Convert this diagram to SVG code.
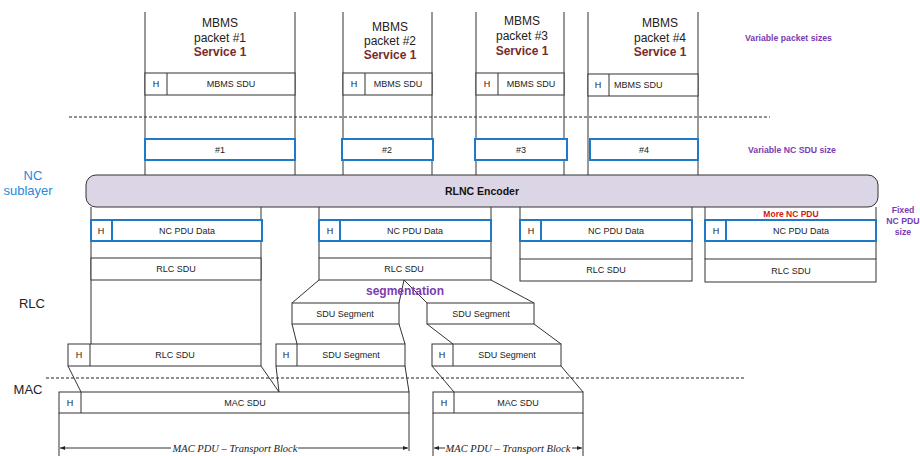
<svg xmlns="http://www.w3.org/2000/svg" width="920" height="456" viewBox="0 0 920 456">
<defs>
<style>
.ln{stroke:#333;stroke-width:1;fill:none}
.bx{stroke:#333;stroke-width:1;fill:#fff}
.nb{stroke:#1f78c8;stroke-width:2;fill:#fff}
.dash{stroke:#222;stroke-width:1;stroke-dasharray:3,2;fill:none}
.t{font-family:"Liberation Sans",Arial,sans-serif;font-size:9px;fill:#222;text-anchor:middle}
.ts{font-family:"Liberation Sans",Arial,sans-serif;font-size:9px;fill:#222;text-anchor:start}
.big{font-family:"Liberation Sans",Arial,sans-serif;font-size:12px;fill:#222;text-anchor:middle}
.svc{font-family:"Liberation Sans",Arial,sans-serif;font-size:12px;font-weight:bold;fill:#7a2b2b;text-anchor:middle}
.pur{font-family:"Liberation Sans",Arial,sans-serif;font-size:8.7px;font-weight:bold;fill:#7a3cb0}
.lay{font-family:"Liberation Sans",Arial,sans-serif;font-size:13px;fill:#222;text-anchor:middle}
.it{font-family:"Liberation Serif","Times New Roman",serif;font-size:10.5px;font-style:italic;fill:#222;text-anchor:middle}
</style>
<marker id="ar" viewBox="0 0 10 10" refX="10" refY="5" markerWidth="7" markerHeight="5" orient="auto-start-reverse" markerUnits="userSpaceOnUse"><path d="M0,1 L10,5 L0,9 Z" fill="#222"/></marker>
</defs>
<rect width="920" height="456" fill="#fff"/>

<g id="layer-labels">
<text x="33" y="180" class="lay" style="fill:#2a88d8">NC</text>
<text x="28" y="195" class="lay" style="fill:#2a88d8">sublayer</text>
<text x="32" y="308" class="lay">RLC</text>
<text x="28" y="394" class="lay">MAC</text>
<text x="745" y="41" class="pur">Variable packet sizes</text>
<text x="748" y="153" class="pur">Variable  NC SDU size</text>
<text x="903" y="213" class="pur" text-anchor="middle">Fixed</text>
<text x="903" y="224" class="pur" text-anchor="middle">NC PDU</text>
<text x="903" y="235" class="pur" text-anchor="middle">size</text>
</g>

<g id="connectors">
<line class="dash" x1="69" y1="117" x2="770" y2="117"/>
<line class="dash" x1="46" y1="378" x2="746" y2="378"/>
<line class="ln" x1="145" y1="12" x2="145" y2="175"/>
<line class="ln" x1="295" y1="12" x2="295" y2="175"/>
<line class="ln" x1="343" y1="12" x2="343" y2="175"/>
<line class="ln" x1="432" y1="12" x2="432" y2="175"/>
<line class="ln" x1="476" y1="12" x2="476" y2="175"/>
<line class="ln" x1="564" y1="12" x2="564" y2="175"/>
<line class="ln" x1="588" y1="12" x2="588" y2="175"/>
<line class="ln" x1="698" y1="12" x2="698" y2="175"/>
<line class="ln" x1="91" y1="207" x2="91" y2="344"/>
<line class="ln" x1="261" y1="207" x2="261" y2="344"/>
<line class="ln" x1="319" y1="207" x2="319" y2="258"/>
<line class="ln" x1="491" y1="207" x2="491" y2="258"/>
<line class="ln" x1="520" y1="207" x2="520" y2="259"/>
<line class="ln" x1="692" y1="207" x2="692" y2="259"/>
<line class="ln" x1="705" y1="207" x2="705" y2="259"/>
<line class="ln" x1="876" y1="207" x2="876" y2="259"/>
<line class="ln" x1="319" y1="280" x2="292" y2="303"/>
<line class="ln" x1="491" y1="280" x2="534" y2="303"/>
<line class="ln" x1="404" y1="280" x2="399" y2="303"/>
<line class="ln" x1="404" y1="280" x2="427" y2="303"/>
<line class="ln" x1="292" y1="324" x2="297" y2="344"/>
<line class="ln" x1="399" y1="324" x2="405" y2="344"/>
<line class="ln" x1="427" y1="324" x2="453" y2="344"/>
<line class="ln" x1="534" y1="324" x2="561" y2="344"/>
<line class="ln" x1="68" y1="366" x2="81" y2="392"/>
<line class="ln" x1="261" y1="366" x2="279" y2="392"/>
<line class="ln" x1="276" y1="366" x2="279" y2="392"/>
<line class="ln" x1="405" y1="366" x2="409" y2="392"/>
<line class="ln" x1="432" y1="366" x2="454" y2="392"/>
<line class="ln" x1="561" y1="366" x2="583" y2="392"/>
<line class="ln" x1="59" y1="413" x2="59" y2="456"/>
<line class="ln" x1="409" y1="413" x2="409" y2="451"/>
<line class="ln" x1="433" y1="413" x2="433" y2="456"/>
<line class="ln" x1="583" y1="413" x2="583" y2="456"/>
<line class="ln" x1="60" y1="448" x2="171" y2="448" marker-start="url(#ar)"/>
<line class="ln" x1="298" y1="448" x2="408" y2="448" marker-end="url(#ar)"/>
<line class="ln" x1="434" y1="448" x2="445" y2="448" marker-start="url(#ar)"/>
<line class="ln" x1="572" y1="448" x2="582" y2="448" marker-end="url(#ar)"/>
</g>

<g id="packet1">
<text x="220" y="27" class="big">MBMS</text>
<text x="220" y="42" class="big">packet #1</text>
<text x="220" y="56" class="svc">Service 1</text>
<rect class="bx" x="145" y="73" width="150" height="22"/>
<line class="ln" x1="167" y1="73" x2="167" y2="95"/>
<text x="156" y="87" class="t">H</text>
<text x="231" y="87" class="t">MBMS SDU</text>
</g>
<g id="packet2">
<text x="390" y="31" class="big">MBMS</text>
<text x="390" y="45" class="big">packet #2</text>
<text x="390" y="59" class="svc">Service 1</text>
<rect class="bx" x="343" y="73" width="89" height="22"/>
<line class="ln" x1="365" y1="73" x2="365" y2="95"/>
<text x="354" y="87" class="t">H</text>
<text x="398" y="87" class="t">MBMS SDU</text>
</g>
<g id="packet3">
<text x="522" y="25" class="big">MBMS</text>
<text x="522" y="40" class="big">packet #3</text>
<text x="522" y="55" class="svc">Service 1</text>
<rect class="bx" x="476" y="73" width="88" height="22"/>
<line class="ln" x1="498" y1="73" x2="498" y2="95"/>
<text x="487" y="87" class="t">H</text>
<text x="531" y="87" class="t">MBMS SDU</text>
</g>
<g id="packet4">
<text x="660" y="27" class="big">MBMS</text>
<text x="660" y="42" class="big">packet #4</text>
<text x="660" y="56" class="svc">Service 1</text>
<rect class="bx" x="588" y="74" width="110" height="22"/>
<line class="ln" x1="609" y1="74" x2="609" y2="96"/>
<text x="598" y="88" class="t">H</text>
<text x="614" y="88" class="ts">MBMS SDU</text>
</g>

<g id="ncsdu">
<rect class="nb" x="145" y="139" width="150" height="21"/>
<text x="220" y="153" class="t">#1</text>
<rect class="nb" x="342" y="139" width="91" height="21"/>
<text x="387" y="153" class="t">#2</text>
<rect class="nb" x="475" y="139" width="92" height="21"/>
<text x="521" y="153" class="t">#3</text>
<rect class="nb" x="590" y="139" width="108" height="21"/>
<text x="644" y="153" class="t">#4</text>
</g>

<g id="encoder">
<rect x="86" y="175" width="792" height="32" rx="10" fill="#dcd5e5" stroke="#333" stroke-width="1"/>
<text x="482" y="195" style="font-family:'Liberation Sans',Arial,sans-serif;font-size:10.5px;font-weight:bold;fill:#111;text-anchor:middle">RLNC Encoder</text>
</g>

<g id="ncpdu1">
<rect class="nb" x="91" y="220" width="171" height="21"/>
<line x1="112" y1="220" x2="112" y2="241" stroke="#1f78c8" stroke-width="2"/>
<text x="101" y="234" class="t">H</text>
<text x="187" y="234" class="t">NC PDU Data</text>
<rect class="bx" x="91" y="258" width="170" height="22"/>
<text x="176" y="272" class="t">RLC SDU</text>
</g>
<g id="ncpdu2">
<rect class="nb" x="319" y="220" width="172" height="21"/>
<line x1="340" y1="220" x2="340" y2="241" stroke="#1f78c8" stroke-width="2"/>
<text x="330" y="234" class="t">H</text>
<text x="415" y="234" class="t">NC PDU Data</text>
<rect class="bx" x="319" y="258" width="172" height="22"/>
<text x="404" y="272" class="t">RLC SDU</text>
</g>
<g id="ncpdu3">
<rect class="nb" x="520" y="220" width="172" height="21"/>
<line x1="541" y1="220" x2="541" y2="241" stroke="#1f78c8" stroke-width="2"/>
<text x="531" y="234" class="t">H</text>
<text x="616" y="234" class="t">NC PDU Data</text>
<rect class="bx" x="520" y="259" width="172" height="22"/>
<text x="606" y="273" class="t">RLC SDU</text>
</g>
<g id="ncpdu4">
<text x="791" y="217" style="font-family:'Liberation Sans',Arial,sans-serif;font-size:8.5px;font-weight:bold;fill:#d01818;text-anchor:middle">More NC PDU</text>
<rect class="nb" x="705" y="220" width="171" height="21"/>
<line x1="726" y1="220" x2="726" y2="241" stroke="#1f78c8" stroke-width="2"/>
<text x="716" y="234" class="t">H</text>
<text x="801" y="234" class="t">NC PDU Data</text>
<rect class="bx" x="705" y="259" width="171" height="23"/>
<text x="791" y="274" class="t">RLC SDU</text>
</g>

<g id="segmentation">
<text x="405" y="295" style="font-family:'Liberation Sans',Arial,sans-serif;font-size:12px;font-weight:bold;fill:#7a3cb0;text-anchor:middle">segmentation</text>
<rect class="bx" x="292" y="303" width="107" height="21"/>
<text x="345" y="317" class="t">SDU Segment</text>
<rect class="bx" x="427" y="303" width="107" height="21"/>
<text x="481" y="317" class="t">SDU Segment</text>
</g>

<g id="rlc1">
<rect class="bx" x="68" y="344" width="193" height="22"/>
<line class="ln" x1="90" y1="344" x2="90" y2="366"/>
<text x="79" y="358" class="t">H</text>
<text x="175" y="358" class="t">RLC SDU</text>
</g>
<g id="rlc2">
<rect class="bx" x="276" y="344" width="129" height="22"/>
<line class="ln" x1="297" y1="344" x2="297" y2="366"/>
<text x="286" y="358" class="t">H</text>
<text x="351" y="358" class="t">SDU Segment</text>
</g>
<g id="rlc3">
<rect class="bx" x="432" y="344" width="129" height="22"/>
<line class="ln" x1="453" y1="344" x2="453" y2="366"/>
<text x="442" y="358" class="t">H</text>
<text x="507" y="358" class="t">SDU Segment</text>
</g>

<g id="mac1">
<rect class="bx" x="59" y="392" width="350" height="21"/>
<line class="ln" x1="81" y1="392" x2="81" y2="413"/>
<text x="70" y="406" class="t">H</text>
<text x="245" y="406" class="t">MAC SDU</text>
<text x="235" y="452" class="it">MAC PDU – Transport Block</text>
</g>
<g id="mac2">
<rect class="bx" x="433" y="392" width="150" height="21"/>
<line class="ln" x1="454" y1="392" x2="454" y2="413"/>
<text x="444" y="406" class="t">H</text>
<text x="518" y="406" class="t">MAC SDU</text>
<text x="508" y="452" class="it">MAC PDU – Transport Block</text>
</g>
</svg>
